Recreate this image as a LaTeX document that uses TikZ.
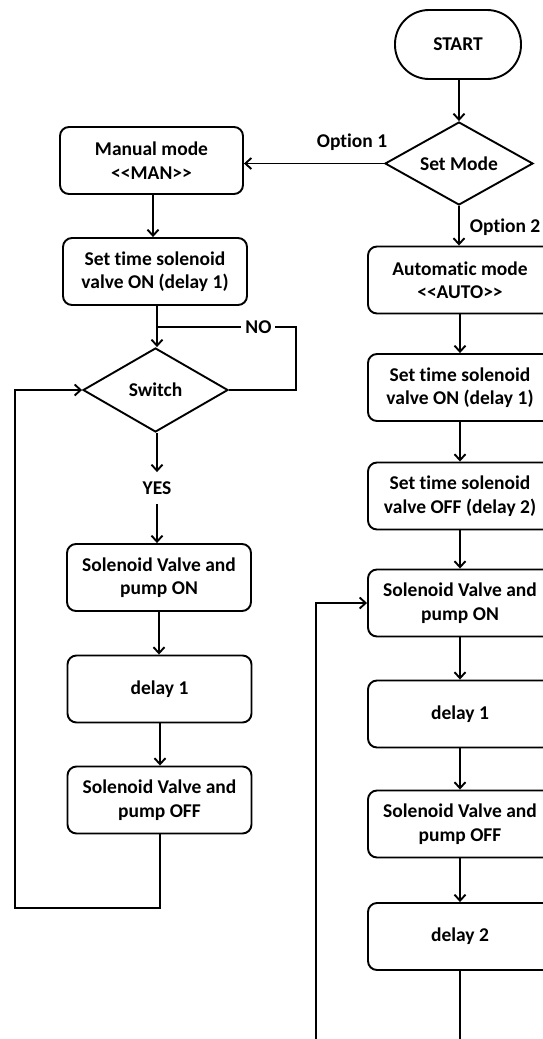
\documentclass[tikz,border=0pt]{standalone}
\usepackage{fontspec}
\setmainfont{Carlito}[Ligatures=NoCommon]
\usetikzlibrary{shapes.geometric,arrows.meta}
\begin{document}
\begin{tikzpicture}[x=1pt,y=-1pt,
  font=\fontsize{19.5}{23.5}\selectfont\bfseries,
  line width=1.9pt,
  box/.style={draw, rounded corners=9pt, minimum width=184pt, minimum height=67pt, align=center, inner sep=0pt},
  term/.style={draw, rounded corners=34pt, minimum width=126pt, minimum height=69pt, inner sep=0pt},
  dia/.style={draw, diamond, aspect=1.75, inner sep=0pt},
  lbl/.style={inner sep=1pt},
  arr/.style={-{Straight Barb[length=6pt,width=11pt]}},
]
\useasboundingbox (0,0) rectangle (543,1039);
\clip (0,0) rectangle (543,1039);

% right column
\node[term] (start) at (458,44.5) {START};
\node[dia, minimum width=148pt, minimum height=83pt] (mode) at (459,163.5) {Set Mode};
\node[box] (auto) at (460,280) {Automatic mode\\<\kern0pt<AUTO>\kern0pt>};
\node[box] (ronr) at (460,387.5) {Set time solenoid\\valve ON (delay 1)};
\node[box] (roffr) at (460,496) {Set time solenoid\\valve OFF (delay 2)};
\node[box] (solonr) at (460,603) {Solenoid Valve and\\pump ON};
\node[box] (d1r) at (460,714) {delay 1};
\node[box] (soloffr) at (460,824) {Solenoid Valve and\\pump OFF};
\node[box] (d2r) at (460,936.5) {delay 2};

% left column
\node[box, minimum width=183pt] (man) at (151.5,160.5) {Manual mode\\<\kern0pt<MAN>\kern0pt>};
\node[box] (setl) at (155,271.5) {Set time solenoid\\valve ON (delay 1)};
\node[dia, minimum width=145pt, minimum height=84pt] (sw) at (155.5,390) {Switch};
\node[box] (solonl) at (159,577.5) {Solenoid Valve and\\pump ON};
\node[box] (d1l) at (159.5,689) {delay 1};
\node[box] (solofl) at (159.5,800) {Solenoid Valve and\\pump OFF};

% labels
\node[lbl] (opt1) at (352,142) {Option 1};
\node[lbl, anchor=west] (opt2) at (468,227) {Option 2};
\node[lbl, minimum height=30pt, inner sep=0pt] (yes) at (157,488) {YES};

% helper coordinates
\coordinate (j) at (157,327);
\coordinate (nr) at (296,327);
\coordinate (ne) at (296,390);
\coordinate (lb) at (160,908);
\coordinate (lc) at (15,908);
\coordinate (lt) at (15,390);
\coordinate (rb) at (460,1055);
\coordinate (rc) at (316,1055);
\coordinate (rt) at (316,603);

% right connectors
\draw[arr] (start.south -| mode.north) -- (mode.north);
\draw[arr] (mode.west) -- (mode.west -| man.east);
\draw[arr] (mode.south) -- (mode.south |- auto.north);
\draw[arr] (auto.south) -- (ronr.north);
\draw[arr] (ronr.south) -- (roffr.north);
\draw[arr] (roffr.south) -- (solonr.north);
\draw[arr] (solonr.south) -- (d1r.north);
\draw[arr] (d1r.south) -- (soloffr.north);
\draw[arr] (soloffr.south) -- (d2r.north);
\draw[arr] (d2r.south) -- (rb) -- (rc) -- (rt) -- (solonr.west);

% left connectors
\draw[arr] (man.south -| 153,0) -- (setl.north -| 153,0);
\draw[arr] (setl.south -| j) -- (sw.north -| j);
\draw (sw.east) -- (ne) -- (nr) -- node[pos=0.27, fill=white, inner sep=4pt] (no) {NO} (j);
\draw[arr] (sw.south -| yes) -- (yes.north);
\draw[arr] (yes.south) -- (solonl.north -| yes);
\draw[arr] (solonl.south -| 159,0) -- (d1l.north -| 159,0);
\draw[arr] (d1l.south -| 160,0) -- (solofl.north -| 160,0);
\draw[arr] (solofl.south -| lb) -- (lb) -- (lc) -- (lt) -- (sw.west);
\end{tikzpicture}
\end{document}
